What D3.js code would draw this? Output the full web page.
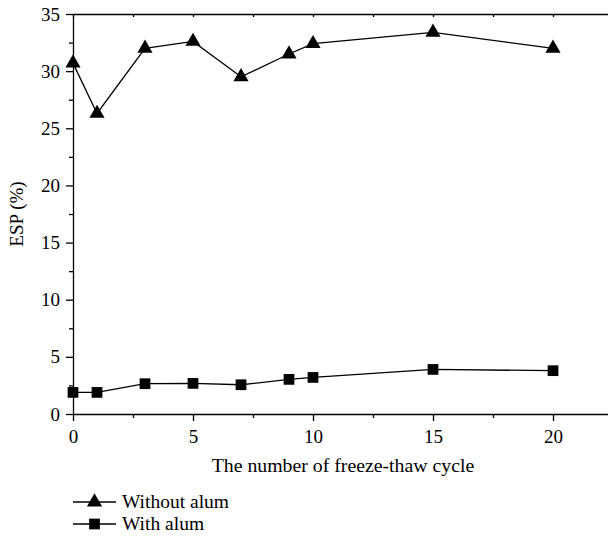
<!DOCTYPE html>
<html>
<head>
<meta charset="utf-8">
<script src="https://cdn.jsdelivr.net/npm/d3@7"></script>
<style>
  body { margin: 0; background: #fff; }
  svg { display: block; }
  svg text { font-family: "Liberation Serif", "Times New Roman", serif; fill: #000; }
  .axis path, .axis line { stroke: #000; stroke-width: 1.3; }
</style>
</head>
<body>
<div class="content"></div>
<script>
// freeze-thaw cycles
var cycles = [0, 1, 3, 5, 7, 9, 10, 15, 20];
var withoutAlum = [30.7, 26.3, 32.0, 32.6, 29.5, 31.5, 32.4, 33.4, 32.0];
var withAlum = [1.89, 1.89, 2.65, 2.68, 2.56, 3.03, 3.2, 3.9, 3.79];
var xTicks = [0, 5, 10, 15, 20];
var yTicks = [0, 5, 10, 15, 20, 25, 30, 35];

var W = 608, H = 538;
var m = { left: 73, top: 14 };
var pw = 540, ph = 400;

var svg = d3.select('.content').append('svg')
    .attr('width', W)
    .attr('height', H);

var x = d3.scaleLinear().domain([0, 22.5]).range([m.left, m.left + pw]);
var y = d3.scaleLinear().domain([0, 35]).range([m.top + ph, m.top]);

var minorX = d3.range(0, 22.6, 2.5).filter(function(d) { return d % 5 !== 0; });
var minorY = d3.range(0, 35.1, 2.5).filter(function(d) { return d % 5 !== 0; });

// minor ticks first
svg.append('g').attr('class', 'axis')
    .attr('transform', 'translate(0,' + (m.top + ph) + ')')
    .call(d3.axisBottom(x).tickValues(minorX).tickSize(4).tickFormat(''))
    .select('.domain').remove();
svg.append('g').attr('class', 'axis')
    .attr('transform', 'translate(' + m.left + ',0)')
    .call(d3.axisLeft(y).tickValues(minorY).tickSize(4).tickFormat(''))
    .select('.domain').remove();

// bottom axis
var gx = svg.append('g').attr('class', 'axis')
    .attr('transform', 'translate(0,' + (m.top + ph) + ')')
    .call(d3.axisBottom(x).tickValues(xTicks).tickSize(7).tickSizeOuter(0).tickPadding(9).tickFormat(d3.format('d')));
gx.attr('font-family', null).attr('font-size', 19);

// left axis
var gy = svg.append('g').attr('class', 'axis')
    .attr('transform', 'translate(' + m.left + ',0)')
    .call(d3.axisLeft(y).tickValues(yTicks).tickSize(7).tickSizeOuter(0).tickPadding(6).tickFormat(d3.format('d')));
gy.attr('font-family', null).attr('font-size', 19);

// top axis, small inward ticks
svg.append('g').attr('class', 'axis')
    .attr('transform', 'translate(0,' + m.top + ')')
    .call(d3.axisTop(x).tickValues(d3.range(0, 22.6, 2.5)).tickSize(-3).tickSizeOuter(0).tickFormat(''));

// axis titles
svg.append('text')
    .attr('x', x(11.25))
    .attr('y', 472)
    .attr('text-anchor', 'middle')
    .attr('font-size', 19.8)
    .text('The number of freeze-thaw cycle');

svg.append('text')
    .attr('transform', 'translate(23,' + y(17.5) + ') rotate(-90)')
    .attr('text-anchor', 'middle')
    .attr('font-size', 19)
    .text('ESP (%)');

var line = d3.line()
    .x(function(d, i) { return x(cycles[i]); })
    .y(function(d) { return y(d); });

var tri = d3.symbol().type(d3.symbolTriangle).size(100);
var sq = d3.symbol().type(d3.symbolSquare).size(115);

function drawSeries(vals, sym) {
    svg.append('path')
        .datum(vals)
        .attr('d', line)
        .attr('fill', 'none')
        .attr('stroke', '#000')
        .attr('stroke-width', 1.3);
    svg.selectAll(null)
        .data(vals)
        .enter().append('path')
        .attr('d', sym)
        .attr('transform', function(d, i) { return 'translate(' + x(cycles[i]) + ',' + y(d) + ')'; })
        .attr('fill', '#000');
}

drawSeries(withoutAlum, tri);
drawSeries(withAlum, sq);

// legend
var legend = [
    { label: 'Without alum', sym: tri, y: 502 },
    { label: 'With alum', sym: sq, y: 524 }
];
legend.forEach(function(l) {
    svg.append('line')
        .attr('x1', 73).attr('x2', 116)
        .attr('y1', l.y).attr('y2', l.y)
        .attr('stroke', '#000').attr('stroke-width', 1.3);
    svg.append('path')
        .attr('d', l.sym)
        .attr('transform', 'translate(94.5,' + l.y + ')')
        .attr('fill', '#000');
    svg.append('text')
        .attr('x', 122)
        .attr('y', l.y + 6)
        .attr('font-size', 19.5)
        .text(l.label);
});
</script>
</body>
</html>
